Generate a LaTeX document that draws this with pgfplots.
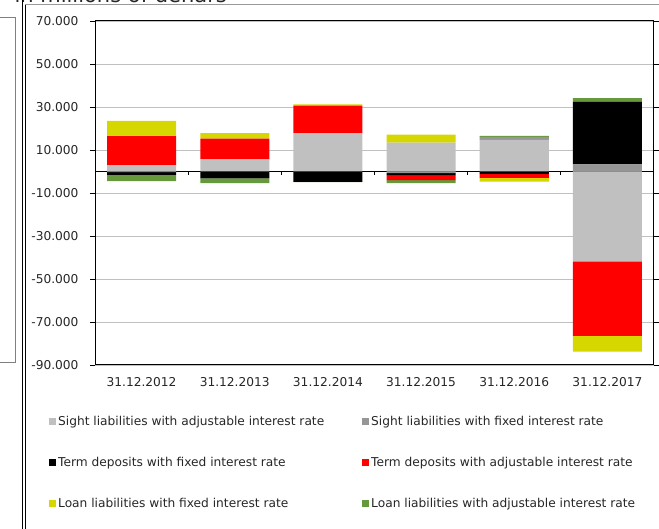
\documentclass[border=0pt]{standalone}
\usepackage{fontspec}
\setmainfont{DejaVu Sans}
\usepackage{pgfplots}
\usepackage{pgfplotstable}
\pgfplotsset{compat=1.18}

\definecolor{sightadj}{RGB}{192,192,192}
\definecolor{sightfix}{RGB}{150,150,150}
\definecolor{termfix}{RGB}{0,0,0}
\definecolor{termadj}{RGB}{255,0,0}
\definecolor{loanfix}{RGB}{214,214,0}
\definecolor{loanadj}{RGB}{102,153,60}
\definecolor{gridgray}{RGB}{192,192,192}

% values in millions of denars
\pgfplotstableread{
x  sa     sf     tf     ta     lf     la
0  3000   -300   -1300  13500  7000   -2900
1  5700   0      -3200  9600   2500   -2200
2  17800  0      -4800  12800  600    -200
3  13400  -800   -900   -2300  3700   -1400
4  14700  1400   -1100  -1900  -1700  500
5  -41800 3300   29100  -34700 -7300  1700
}\data

\pgfplotsset{
  sqlegend/.style={legend image code/.code={\fill[##1] (0pt,-3.5pt) rectangle (7pt,3.5pt);}}
}

\begin{document}
\begin{tikzpicture}[x=1pt,y=1pt]
\path[use as bounding box] (0,0) rectangle (659,529);
% fragments of the surrounding page
\node[anchor=base west, font=\fontsize{21}{25}\selectfont, text=black!85] at (11,526) {in millions of denars};
\draw[black!40, line width=1pt] (25,524) -- (659,524);
\draw[black, line width=0.8pt] (22.7,0) -- (22.7,529);
\draw[black, line width=0.8pt] (25.7,0) -- (25.7,524);
\draw[black!50, line width=0.8pt] (0,512) -- (15,512) -- (15,167) -- (0,167);

\begin{axis}[
  at={(95pt,164pt)}, anchor=south west,
  scale only axis, width=559pt, height=344pt,
  xmin=-0.5, xmax=5.5, ymin=-90000, ymax=70000,
  ybar stacked, stack negative=separate, bar width=69pt,
  xtick={0,...,5},
  xticklabels={31.12.2012,31.12.2013,31.12.2014,31.12.2015,31.12.2016,31.12.2017},
  xtick style={draw=none},
  ytick={-90000,-70000,...,70000},
  scaled y ticks=false,
  /pgf/number format/1000 sep={.},
  /pgf/number format/assume math mode=true,
  ymajorgrids, grid style={gridgray, line width=0.8pt},
  tick align=outside, major tick length=5pt,
  ytick style={black, line width=0.8pt},
  axis line style={black, line width=1pt},
  tick label style={font=\fontsize{12.2}{14}\selectfont, text=black!85},
  yticklabel style={xshift=-8pt},
  xticklabel style={yshift=-4pt},
  legend columns=2,
  legend cell align=left,
  legend style={draw=none, fill=none, inner sep=0pt,
    at={(axis description cs:-0.0823,-0.1415)}, anchor=north west,
    font=\fontsize{12.2}{14}\selectfont, text=black!85,
    row sep=26.5pt, /tikz/column 2/.style={column sep=36pt}},
]
\addplot[fill=sightadj, draw=none, sqlegend] table[x=x,y=sa]{\data};
\addlegendentry{Sight liabilities with adjustable interest rate}
\addplot[fill=sightfix, draw=none, sqlegend] table[x=x,y=sf]{\data};
\addlegendentry{Sight liabilities with fixed interest rate}
\addplot[fill=termfix, draw=none, sqlegend] table[x=x,y=tf]{\data};
\addlegendentry{Term deposits with fixed interest rate}
\addplot[fill=termadj, draw=none, sqlegend] table[x=x,y=ta]{\data};
\addlegendentry{Term deposits with adjustable interest rate}
\addplot[fill=loanfix, draw=none, sqlegend] table[x=x,y=lf]{\data};
\addlegendentry{Loan liabilities with fixed interest rate}
\addplot[fill=loanadj, draw=none, sqlegend] table[x=x,y=la]{\data};
\addlegendentry{Loan liabilities with adjustable interest rate}
\draw[black, line width=0.8pt] (axis cs:-0.5,0) -- (axis cs:5.5,0);
\pgfplotsinvokeforeach{0.5,1.5,2.5,3.5,4.5}{\draw[black, line width=0.8pt] (axis cs:#1,0) -- ++(0pt,-4pt);}
\end{axis}
\end{tikzpicture}
\end{document}
